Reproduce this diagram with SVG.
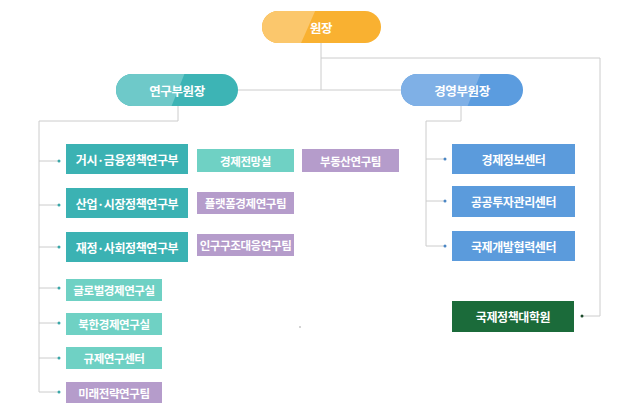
<svg xmlns="http://www.w3.org/2000/svg" width="643" height="416" viewBox="0 0 643 416">
<style>
.t{font-family:"Noto Sans CJK KR","Noto Sans",sans-serif;font-weight:bold;fill:#fff;text-anchor:middle;dominant-baseline:central}
.pill{font-size:12.5px;letter-spacing:-0.4px}
.box{font-size:12px;letter-spacing:-0.4px}
.sm{font-size:11.5px;letter-spacing:-0.4px}
.ln{fill:none;stroke:#cccccc;stroke-width:1}
.teal{fill:#3bb2b3}
.mint{fill:#6fd1c4}
.purple{fill:#b59ccb}
.blue{fill:#5b9bdc}
.green{fill:#1b6b3a}
</style>
<defs>
<clipPath id="c1"><rect x="262" y="11" width="119" height="32" rx="16"/></clipPath>
<clipPath id="c2"><rect x="116" y="74" width="122" height="32" rx="16"/></clipPath>
<clipPath id="c3"><rect x="401" y="74" width="122" height="32" rx="16"/></clipPath>
</defs>
<rect width="643" height="416" fill="#fff"/>
<g id="connectors">
<polyline class="ln" points="321,43 321,90"/>
<polyline class="ln" points="238,90 401,90"/>
<polyline class="ln" points="321,58 600,58 600,316 582,316"/>
<polyline class="ln" points="178,106 178,121 39,121 39,392 59,392"/>
<line class="ln" x1="39" y1="161" x2="59" y2="161"/>
<line class="ln" x1="39" y1="205" x2="59" y2="205"/>
<line class="ln" x1="39" y1="247" x2="59" y2="247"/>
<line class="ln" x1="39" y1="288" x2="59" y2="288"/>
<line class="ln" x1="39" y1="323" x2="59" y2="323"/>
<line class="ln" x1="39" y1="358" x2="59" y2="358"/>
<polyline class="ln" points="461,106 461,121 426,121 426,246 445,246"/>
<line class="ln" x1="426" y1="159" x2="445" y2="159"/>
<line class="ln" x1="426" y1="201" x2="445" y2="201"/>
<g fill="#3aa7a8">
<circle cx="59" cy="161" r="1.5"/><circle cx="59" cy="205" r="1.5"/><circle cx="59" cy="247" r="1.5"/>
<circle cx="59" cy="288" r="1.5"/><circle cx="59" cy="323" r="1.5"/><circle cx="59" cy="358" r="1.5"/><circle cx="59" cy="392" r="1.5"/>
</g>
<g fill="#4a86c4">
<circle cx="445" cy="159" r="1.5"/><circle cx="445" cy="201" r="1.5"/><circle cx="445" cy="246" r="1.5"/>
</g>
<circle cx="582" cy="316" r="1.5" fill="#1b4a2a"/>
<circle cx="300" cy="327" r="0.7" fill="#888"/>
</g>
<g id="n-wonjang">
<rect x="262" y="11" width="119" height="32" rx="16" fill="#f9b131"/>
<polygon clip-path="url(#c1)" points="250,0 320,0 298,50 250,50" fill="#fbc76c"/>
<text class="t pill" x="321" y="27">원장</text>
</g>
<g id="n-research-vp">
<rect x="116" y="74" width="122" height="32" rx="16" fill="#3db4b5"/>
<polygon clip-path="url(#c2)" points="100,60 190,60 166,120 100,120" fill="#6ec9c9"/>
<text class="t pill" x="177" y="90">연구부원장</text>
</g>
<g id="n-mgmt-vp">
<rect x="401" y="74" width="122" height="32" rx="16" fill="#5b9cdf"/>
<polygon clip-path="url(#c3)" points="390,60 486,60 462,120 390,120" fill="#7fb0e6"/>
<text class="t pill" x="462" y="90">경영부원장</text>
</g>
<g id="n-macro"><rect class="teal" x="66" y="144" width="122" height="30"/><text class="t box" x="127" y="159">거시·금융정책연구부</text></g>
<g id="n-industry"><rect class="teal" x="66" y="188" width="122" height="30"/><text class="t box" x="127" y="203">산업·시장정책연구부</text></g>
<g id="n-fiscal"><rect class="teal" x="66" y="232" width="122" height="30"/><text class="t box" x="127" y="247">재정·사회정책연구부</text></g>
<g id="n-outlook"><rect class="mint" x="197" y="149" width="97" height="23"/><text class="t sm" x="245.5" y="160.5">경제전망실</text></g>
<g id="n-realestate"><rect class="purple" x="302" y="149" width="97" height="23"/><text class="t sm" x="350.5" y="160.5">부동산연구팀</text></g>
<g id="n-platform"><rect class="purple" x="197" y="192" width="97" height="22"/><text class="t sm" x="245.5" y="203">플랫폼경제연구팀</text></g>
<g id="n-population"><rect class="purple" x="197" y="234" width="97" height="22"/><text class="t sm" x="245.5" y="245">인구구조대응연구팀</text></g>
<g id="n-global"><rect class="mint" x="66" y="279" width="96" height="22"/><text class="t sm" x="114" y="290">글로벌경제연구실</text></g>
<g id="n-nk"><rect class="mint" x="66" y="313" width="96" height="22"/><text class="t sm" x="114" y="324">북한경제연구실</text></g>
<g id="n-reg"><rect class="mint" x="66" y="347" width="96" height="22"/><text class="t sm" x="114" y="358">규제연구센터</text></g>
<g id="n-future"><rect class="purple" x="66" y="382" width="96" height="21"/><text class="t sm" x="114" y="392.5">미래전략연구팀</text></g>
<g id="n-info"><rect class="blue" x="452" y="144" width="123" height="30"/><text class="t box" x="513.5" y="159">경제정보센터</text></g>
<g id="n-pimac"><rect class="blue" x="452" y="186" width="123" height="31"/><text class="t box" x="513.5" y="201.5">공공투자관리센터</text></g>
<g id="n-dev"><rect class="blue" x="452" y="231" width="123" height="30"/><text class="t box" x="513.5" y="246">국제개발협력센터</text></g>
<g id="n-school"><rect class="green" x="452" y="301" width="122" height="31"/><text class="t box" x="513" y="316.5">국제정책대학원</text></g>
</svg>
